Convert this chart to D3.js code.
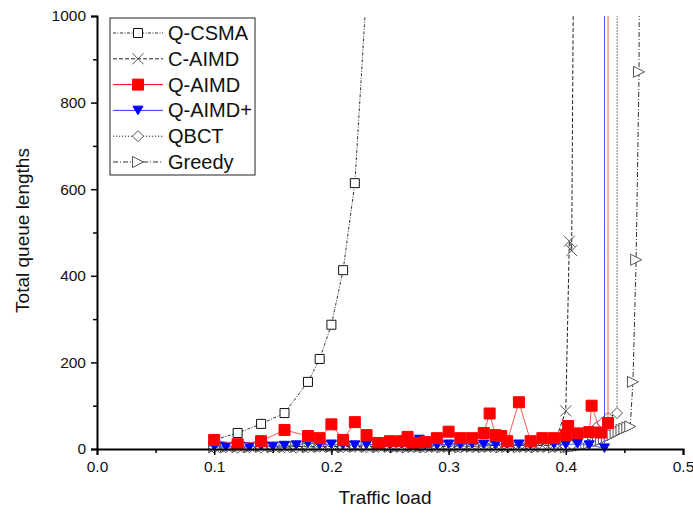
<!DOCTYPE html>
<meta charset="utf-8">
<head>
<script src="https://d3js.org/d3.v7.min.js"></script>
<style>
  body { margin: 0; background: #fff; font-family: "Liberation Sans", Arial, sans-serif; }
  .tick text { font-family: "Liberation Sans", Arial, sans-serif; }
</style>
</head>
<div id="chart"></div>
<script>
// ---- data ----
var qcsmaX = [0.10, 0.12, 0.14, 0.16, 0.18, 0.19, 0.20, 0.21, 0.22, 0.23];
var qcsmaY = [21, 37, 58, 83, 155, 208, 287, 413, 614, 1060];

var caimdX = [0.10, 0.11, 0.12, 0.13, 0.14, 0.15, 0.16, 0.17, 0.18, 0.19, 0.20, 0.21, 0.22, 0.23, 0.24,
              0.25, 0.26, 0.27, 0.28, 0.29, 0.30, 0.31, 0.32, 0.33, 0.34, 0.35, 0.36, 0.37, 0.38, 0.39,
              0.40, 0.403, 0.405, 0.41];
var caimdY = [4, 5, 4, 5, 6, 5, 4, 6, 5, 5, 6, 5, 6, 5, 6,
              7, 6, 5, 6, 7, 6, 7, 6, 7, 8, 7, 8, 9, 8, 10,
              88, 480, 458, 2550];

var qaimdX = [0.10, 0.12, 0.14, 0.16, 0.18, 0.19, 0.20, 0.21, 0.22, 0.23, 0.24, 0.25, 0.26, 0.265, 0.27,
              0.28, 0.29, 0.30, 0.31, 0.32, 0.33, 0.335, 0.34, 0.345, 0.35, 0.36, 0.37, 0.38, 0.39,
              0.40, 0.402, 0.41, 0.42, 0.422, 0.43, 0.436, 0.4362];
var qaimdY = [21, 11, 18, 44, 30, 25, 57, 21, 62, 32, 14, 18, 18, 28, 14,
              16, 25, 40, 25, 25, 37, 82, 32, 30, 18, 108, 18, 25, 25,
              32, 53, 36, 39, 100, 38, 60, 4000];

var qaimdpX = [0.10, 0.11, 0.12, 0.13, 0.14, 0.15, 0.16, 0.17, 0.18, 0.19, 0.20, 0.21, 0.22, 0.23, 0.24,
               0.25, 0.26, 0.27, 0.275, 0.28, 0.29, 0.30, 0.31, 0.32, 0.33, 0.34, 0.35, 0.36, 0.37, 0.38,
               0.39, 0.40, 0.41, 0.42, 0.433, 0.4335];
var qaimdpY = [6, 5, 7, 5, 7, 6, 8, 9, 14, 10, 11, 10, 9, 10, 11,
               10, 12, 11, 22, 10, 9, 11, 10, 12, 11, 10, 12, 11, 10, 20,
               11, 10, 12, 9, 2, 6000];

var qbctX = [0.10, 0.11, 0.12, 0.13, 0.14, 0.15, 0.16, 0.17, 0.18, 0.19, 0.20, 0.21, 0.22, 0.23, 0.24,
             0.25, 0.26, 0.27, 0.28, 0.29, 0.30, 0.31, 0.32, 0.33, 0.34, 0.35, 0.36, 0.37, 0.38, 0.39,
             0.40, 0.405, 0.41, 0.415, 0.42, 0.4266, 0.431, 0.436, 0.4437, 0.4445];
var qbctY = [3, 4, 3, 4, 3, 4, 4, 3, 4, 5, 4, 4, 5, 4, 5,
             4, 5, 5, 4, 5, 5, 4, 5, 6, 5, 5, 6, 5, 6, 6,
             6, 10, 18, 25, 33, 51, 60, 72, 83, 5000];

var greedyX = [0.10, 0.11, 0.12, 0.13, 0.14, 0.15, 0.16, 0.17, 0.18, 0.19, 0.20, 0.21, 0.22, 0.23, 0.24, 0.25,
               0.255, 0.26, 0.265, 0.27, 0.275, 0.28, 0.285, 0.29, 0.295, 0.30, 0.305, 0.31, 0.315, 0.32,
               0.325, 0.33, 0.335, 0.34, 0.345, 0.35, 0.355, 0.36, 0.365, 0.37, 0.375, 0.38, 0.385, 0.39,
               0.395, 0.40, 0.4025, 0.405, 0.4075, 0.41, 0.4125, 0.415, 0.4175, 0.42, 0.4225, 0.425, 0.4275,
               0.43, 0.4325, 0.435, 0.4375, 0.44, 0.4425, 0.445, 0.4475, 0.45, 0.4525, 0.455, 0.4573, 0.46,
               0.4625, 0.4635];
var greedyY = [4, 4, 5, 4, 5, 4, 5, 5, 4, 5, 5, 4, 5, 5, 4, 5,
               4, 5, 4, 5, 5, 4, 5, 5, 4, 5, 5, 4, 5, 5,
               5, 4, 5, 5, 4, 5, 5, 4, 5, 5, 4, 5, 5, 4,
               5, 4, 4, 5, 6, 7, 8, 10, 11, 13, 15, 17, 19,
               21, 24, 27, 30, 33, 37, 40, 44, 47, 50, 52, 155, 437,
               871, 2500];

var names = ["Q-CSMA", "C-AIMD", "Q-AIMD", "Q-AIMD+", "QBCT", "Greedy"];
var xTicks = [0, 0.1, 0.2, 0.3, 0.4, 0.5];
var xMinor = [0.05, 0.15, 0.25, 0.35, 0.45];
var yTicks = [0, 200, 400, 600, 800, 1000];
var yMinor = [100, 300, 500, 700, 900];

function zip(xs, ys) { return xs.map(function (v, i) { return {x: v, y: ys[i]}; }); }

// drawing order: gray curves first, red last
var series = [
  {name: "Greedy", data: zip(greedyX, greedyY), stroke: "#333", dash: "5,2,1,2", width: 1, marker: "tri-right", mstroke: "#555", mfill: "#fff", size: 11},
  {name: "QBCT", data: zip(qbctX, qbctY), stroke: "#222", dash: "1.2,1.8", width: 1, marker: "diamond", mstroke: "#555", mfill: "#fff", size: 11},
  {name: "C-AIMD", data: zip(caimdX, caimdY), stroke: "#222", dash: "4,2", width: 1, marker: "times", mstroke: "#555", mfill: "none", size: 11},
  {name: "Q-CSMA", data: zip(qcsmaX, qcsmaY), stroke: "#333", dash: "3,1.5,1,1.5", width: 1, marker: "square", mstroke: "#111", mfill: "#fff", size: 9},
  {name: "Q-AIMD+", data: zip(qaimdpX, qaimdpY), stroke: "#5555ff", dash: null, width: 1, marker: "tri-down", mstroke: "#0000ff", mfill: "#0000ff", size: 10},
  {name: "Q-AIMD", data: zip(qaimdX, qaimdY), stroke: "#ff5555", dash: null, width: 1, marker: "square", mstroke: "#ff0000", mfill: "#ff0000", size: 11}
];

// marker outlines centred on 0,0
function markerPath(type, s) {
  var h = s / 2;
  switch (type) {
    case "square": return "M" + (-h) + "," + (-h) + "h" + s + "v" + s + "h" + (-s) + "Z";
    case "diamond": return "M0," + (-h) + "L" + h + ",0L0," + h + "L" + (-h) + ",0Z";
    case "times": return "M" + (-h) + "," + (-h) + "L" + h + "," + h + "M" + (-h) + "," + h + "L" + h + "," + (-h);
    case "tri-right": return "M" + (-h) + "," + (-h) + "L" + h + ",0L" + (-h) + "," + h + "Z";
    case "tri-down": return "M" + (-h) + "," + (-h * 0.85) + "L" + h + "," + (-h * 0.85) + "L0," + (h * 0.85) + "Z";
  }
}

// ---- layout ----
var margin = {top: 16, right: 10, bottom: 66, left: 97},
    width = 693 - margin.left - margin.right,
    height = 515 - margin.top - margin.bottom;

var svg = d3.select("#chart")
  .append("svg")
  .attr("width", 693)
  .attr("height", 515)
  .append("g")
  .attr("transform", "translate(" + margin.left + "," + margin.top + ")");

var x = d3.scaleLinear().domain([0, 0.5]).range([0, 586]);
var y = d3.scaleLinear().domain([0, 1000]).range([433, 0]);

svg.append("clipPath").attr("id", "clip")
  .append("rect").attr("x", -10).attr("y", 0).attr("width", width + 20).attr("height", height + 20);

var plot = svg.append("g").attr("clip-path", "url(#clip)");

var line = d3.line()
  .x(function (d) { return x(d.x); })
  .y(function (d) { return y(d.y); });

series.forEach(function (s) {
  plot.append("path")
    .datum(s.data)
    .attr("fill", "none")
    .attr("stroke", s.stroke)
    .attr("stroke-width", s.width)
    .attr("stroke-dasharray", s.dash)
    .attr("d", line);
  plot.selectAll(null)
    .data(s.data)
    .enter().append("path")
    .attr("transform", function (d) { return "translate(" + x(d.x) + "," + y(d.y) + ")"; })
    .attr("d", markerPath(s.marker, s.size))
    .attr("fill", s.mfill)
    .attr("stroke", s.mstroke)
    .attr("stroke-width", 1);
});

// ---- axes ----
svg.append("g")
  .attr("transform", "translate(0," + y(0) + ")")
  .call(d3.axisBottom(x).tickValues(xTicks).tickFormat(d3.format(".1f")).tickSize(6).tickPadding(6));
svg.append("g")
  .attr("transform", "translate(0," + y(0) + ")")
  .call(d3.axisBottom(x).tickValues(xMinor).tickFormat("").tickSize(4))
  .select(".domain").remove();

svg.append("g")
  .call(d3.axisLeft(y).tickValues(yTicks).tickFormat(d3.format("d")).tickSize(6).tickPadding(5));
svg.append("g")
  .call(d3.axisLeft(y).tickValues(yMinor).tickFormat("").tickSize(4))
  .select(".domain").remove();

svg.selectAll(".domain").attr("stroke-width", 2);
svg.selectAll(".tick line").attr("stroke-width", 1.5);
svg.selectAll(".tick text").attr("font-size", 15.5).attr("fill", "#111");

svg.append("text")
  .attr("x", width / 2 - 5)
  .attr("y", height + 55)
  .attr("text-anchor", "middle")
  .attr("font-size", 19)
  .attr("fill", "#111")
  .text("Traffic load");

svg.append("text")
  .attr("transform", "rotate(-90)")
  .attr("x", -(height / 2) + 2)
  .attr("y", -68)
  .attr("text-anchor", "middle")
  .attr("font-size", 19)
  .attr("fill", "#111")
  .text("Total queue lengths");

// ---- legend ----
var legend = svg.append("g").attr("transform", "translate(13,2)");
legend.append("rect")
  .attr("width", 145).attr("height", 157)
  .attr("fill", "#fff").attr("stroke", "#222").attr("stroke-width", 1);

var legendOrder = names.map(function (n) { return series.find(function (s) { return s.name === n; }); });
legendOrder.forEach(function (s, i) {
  var ly = 15 + i * 25.8;
  var row = legend.append("g").attr("transform", "translate(0," + ly + ")");
  row.append("line")
    .attr("x1", 3).attr("x2", 53).attr("y1", 0).attr("y2", 0)
    .attr("stroke", s.name === "Q-AIMD" ? "#ff0000" : s.name === "Q-AIMD+" ? "#3333ff" : s.stroke)
    .attr("stroke-width", 1)
    .attr("stroke-dasharray", s.dash);
  row.append("path")
    .attr("transform", "translate(28,0)")
    .attr("d", markerPath(s.marker, s.size))
    .attr("fill", s.mfill)
    .attr("stroke", s.mstroke)
    .attr("stroke-width", 1);
  row.append("text")
    .attr("x", 58).attr("y", 7)
    .attr("font-size", 20)
    .attr("fill", "#111")
    .text(s.name);
});
</script>
